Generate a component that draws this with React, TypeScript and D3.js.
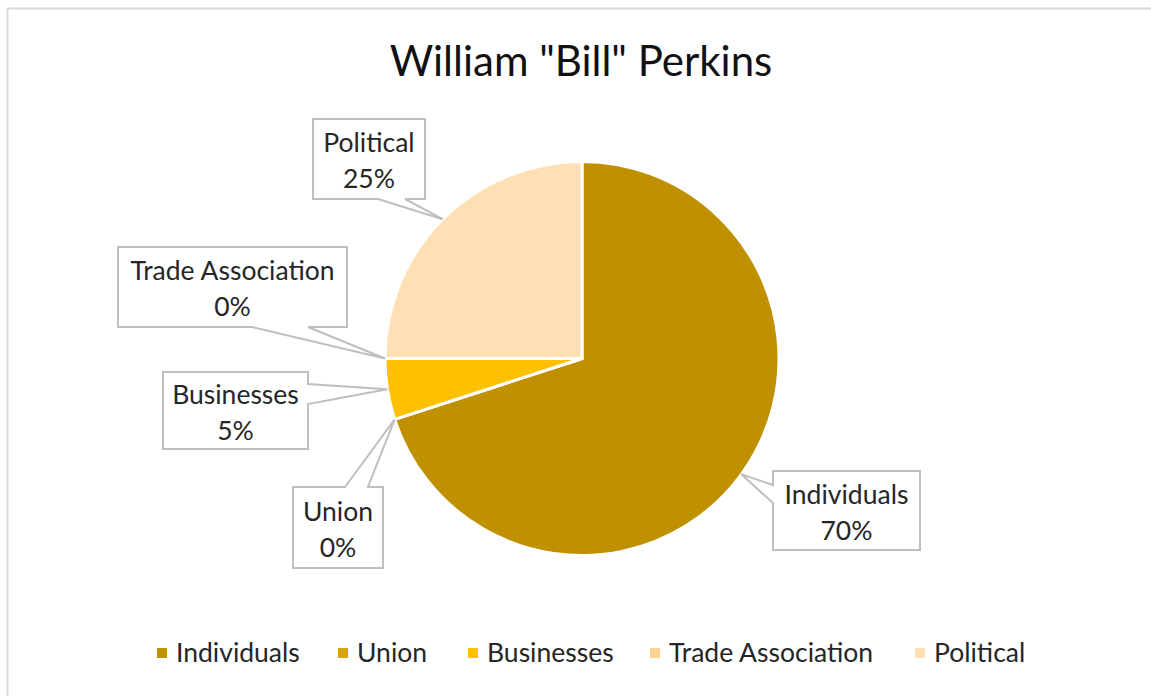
import React from 'react';
import * as d3 from 'd3';

const title = 'William "Bill" Perkins';
const categories = ['Individuals', 'Union', 'Businesses', 'Trade Association', 'Political'];
const shares = [70, 0, 5, 0, 25];
const colors = ['#BF9000', '#DCA400', '#FFC000', '#FFD38F', '#FFE0B5'];

const W = 1151;
const H = 696;
const FONT = 'Lato, "Open Sans", sans-serif';

// callout boxes: box edges, side the pointer leaves from, and the pointer base along that side
type Callout = { x0: number; y0: number; x1: number; y1: number; side: 'top' | 'bottom' | 'left' | 'right'; a: number; b: number };
const callouts: Record<string, Callout> = {
  Individuals: { x0: 773, y0: 471, x1: 920, y1: 550, side: 'left', a: 485, b: 503 },
  Union: { x0: 293, y0: 487, x1: 383, y1: 568, side: 'top', a: 345, b: 368 },
  Businesses: { x0: 163, y0: 372, x1: 308, y1: 449, side: 'right', a: 384, b: 404 },
  'Trade Association': { x0: 118, y0: 247, x1: 347, y1: 327, side: 'bottom', a: 252, b: 308 },
  Political: { x0: 313, y0: 119, x1: 425, y1: 199, side: 'bottom', a: 378, b: 405 },
};

function calloutPath(c: Callout, tx: number, ty: number) {
  const { x0, y0, x1, y1, side, a, b } = c;
  const p: [number, number][] = [[x0, y0]];
  if (side === 'top') p.push([a, y0], [tx, ty], [b, y0]);
  p.push([x1, y0]);
  if (side === 'right') p.push([x1, a], [tx, ty], [x1, b]);
  p.push([x1, y1]);
  if (side === 'bottom') p.push([b, y1], [tx, ty], [a, y1]);
  p.push([x0, y1]);
  if (side === 'left') p.push([x0, b], [tx, ty], [x0, a]);
  return 'M' + p.map(d => d.join(',')).join('L') + 'Z';
}

const App: React.FC = () => {
  const cx = 582;
  const cy = 358.5;
  const r = 197;

  const pie = d3.pie<number>().sort(null).value(d => d);
  const arcs = pie(shares);
  const arc = d3.arc<d3.PieArcDatum<number>>().innerRadius(0).outerRadius(r);

  const legendX = [157, 338, 468, 650, 915];

  return (
    <div style={{ position: 'fixed', left: 0, top: 0 }}>
      <svg width={W} height={H} style={{ display: 'block', background: '#fff' }}>
        <rect x={7.5} y={8.5} width={W + 10} height={H + 10} fill="#fff" stroke="#D9D9D9" strokeWidth={2} />
        <text x={581} y={76} textAnchor="middle" fontFamily={FONT} fontSize={42} fill="#111">{title}</text>

        <g transform={`translate(${cx},${cy})`}>
          {arcs.map((d, i) => (
            <path key={categories[i]} d={arc(d) || ''} fill={colors[i]} stroke="#fff" strokeWidth={3} strokeLinejoin="round" />
          ))}
        </g>

        {arcs.map((d, i) => {
          const name = categories[i];
          const c = callouts[name];
          const mid = (d.startAngle + d.endAngle) / 2;
          const tx = cx + r * Math.sin(mid);
          const ty = cy - r * Math.cos(mid);
          const mx = (c.x0 + c.x1) / 2;
          const my = (c.y0 + c.y1) / 2;
          return (
            <g key={name}>
              <path d={calloutPath(c, tx, ty)} fill="#fff" stroke="#BFBFBF" strokeWidth={2} />
              <text x={mx} y={my - 7} textAnchor="middle" fontFamily={FONT} fontSize={26.5} fill="#262626">{name}</text>
              <text x={mx} y={my + 29} textAnchor="middle" fontFamily={FONT} fontSize={26.5} fill="#262626">{`${d3.format('.0f')(shares[i])}%`}</text>
            </g>
          );
        })}

        {categories.map((name, i) => (
          <g key={name} transform={`translate(${legendX[i]},653)`}>
            <rect x={0} y={-5} width={10} height={10} fill={colors[i]} />
            <text x={19} y={9} fontFamily={FONT} fontSize={26.5} fill="#262626">{name}</text>
          </g>
        ))}
      </svg>
    </div>
  );
};

export default App;
